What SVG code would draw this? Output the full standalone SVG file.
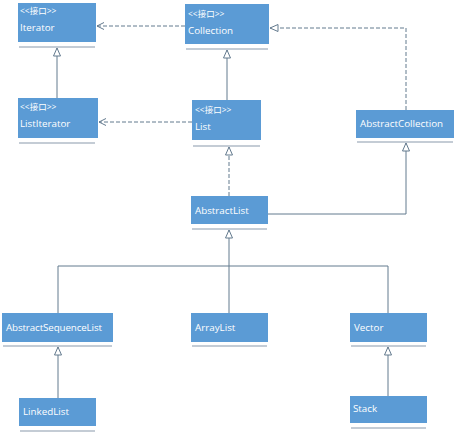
<svg xmlns="http://www.w3.org/2000/svg" width="457" height="437" viewBox="0 0 457 437">
<style>
.box{fill:#5b9bd5;}
.ul{stroke:#8a9aab;stroke-width:1.2;fill:none;}
.t{font-family:"Open Sans","Noto Sans","Noto Sans CJK SC",sans-serif;font-size:9.8px;fill:#ffffff;}
.s{font-family:"Open Sans","Noto Sans","Noto Sans CJK SC",sans-serif;font-size:8.5px;fill:#ffffff;}
.c{stroke:#637a8e;stroke-width:1;fill:none;}
.d{stroke-dasharray:4,2;}
</style>
<defs>
<marker id="tri" markerUnits="userSpaceOnUse" markerWidth="10" markerHeight="10" viewBox="0 0 10 10" refX="9" refY="5" orient="auto">
<path d="M1,1.5 L9,5 L1,8.5 z" fill="#ffffff" stroke="#637a8e" stroke-width="1"/>
</marker>
<marker id="open" markerUnits="userSpaceOnUse" markerWidth="10" markerHeight="10" viewBox="0 0 10 10" refX="9" refY="5" orient="auto">
<path d="M2,1.5 L9,5 L2,8.5" fill="none" stroke="#637a8e" stroke-width="1"/>
</marker>
</defs>
<g id="connectors">
<line class="c d" x1="185" y1="26" x2="97" y2="26" marker-end="url(#open)"/>
<line class="c d" x1="192" y1="122" x2="99" y2="122" marker-end="url(#open)"/>
<line class="c" x1="57" y1="98" x2="57" y2="48" marker-end="url(#tri)"/>
<line class="c" x1="227" y1="100" x2="227" y2="50" marker-end="url(#tri)"/>
<polyline class="c d" points="406,110 406,28 270,28" marker-end="url(#tri)"/>
<line class="c d" x1="229" y1="196" x2="229" y2="147" marker-end="url(#tri)"/>
<polyline class="c" points="268,214 406,214 406,143" marker-end="url(#tri)"/>
<line class="c" x1="229" y1="266" x2="229" y2="230" marker-end="url(#tri)"/>
<polyline class="c" points="58,313 58,266 388,266 388,313"/>
<line class="c" x1="229" y1="266" x2="229" y2="313"/>
<line class="c" x1="58" y1="398" x2="58" y2="347" marker-end="url(#tri)"/>
<line class="c" x1="388" y1="396" x2="388" y2="347" marker-end="url(#tri)"/>
</g>
<g id="Iterator">
<rect class="box" x="18" y="3" width="78" height="39"/>
<line class="ul" x1="19" y1="47" x2="95" y2="47"/>
<text class="s" x="20" y="14">&lt;&lt;接口&gt;&gt;</text>
<text class="t" x="20" y="31">Iterator</text>
</g>
<g id="Collection">
<rect class="box" x="185" y="4" width="84" height="40"/>
<line class="ul" x1="186" y1="49" x2="268" y2="49"/>
<text class="s" x="188" y="17">&lt;&lt;接口&gt;&gt;</text>
<text class="t" x="188" y="34">Collection</text>
</g>
<g id="ListIterator">
<rect class="box" x="18" y="98" width="80" height="40"/>
<line class="ul" x1="19" y1="143" x2="95" y2="143"/>
<text class="s" x="20" y="110">&lt;&lt;接口&gt;&gt;</text>
<text class="t" x="20" y="127">ListIterator</text>
</g>
<g id="List">
<rect class="box" x="192" y="100" width="69" height="40"/>
<line class="ul" x1="193" y1="146" x2="260" y2="146"/>
<text class="s" x="195" y="113">&lt;&lt;接口&gt;&gt;</text>
<text class="t" x="195" y="130">List</text>
</g>
<g id="AbstractCollection">
<rect class="box" x="356" y="110" width="98" height="28"/>
<line class="ul" x1="357" y1="142" x2="453" y2="142"/>
<text class="t" x="360" y="127">AbstractCollection</text>
</g>
<g id="AbstractList">
<rect class="box" x="191" y="196" width="77" height="28"/>
<line class="ul" x1="192" y1="229" x2="267" y2="229"/>
<text class="t" x="195" y="214">AbstractList</text>
</g>
<g id="AbstractSequenceList">
<rect class="box" x="2" y="313" width="111" height="29"/>
<line class="ul" x1="3" y1="346" x2="112" y2="346"/>
<text class="t" x="6" y="331" textLength="96" lengthAdjust="spacing">AbstractSequenceList</text>
</g>
<g id="ArrayList">
<rect class="box" x="191" y="313" width="77" height="29"/>
<line class="ul" x1="192" y1="346" x2="267" y2="346"/>
<text class="t" x="195" y="331">ArrayList</text>
</g>
<g id="Vector">
<rect class="box" x="350" y="313" width="77" height="29"/>
<line class="ul" x1="351" y1="346" x2="426" y2="346"/>
<text class="t" x="354" y="331">Vector</text>
</g>
<g id="LinkedList">
<rect class="box" x="19" y="398" width="77" height="28"/>
<line class="ul" x1="20" y1="431" x2="95" y2="431"/>
<text class="t" x="23" y="415">LinkedList</text>
</g>
<g id="Stack">
<rect class="box" x="350" y="396" width="77" height="27"/>
<line class="ul" x1="351" y1="428" x2="426" y2="428"/>
<text class="t" x="353" y="412">Stack</text>
</g>
</svg>
